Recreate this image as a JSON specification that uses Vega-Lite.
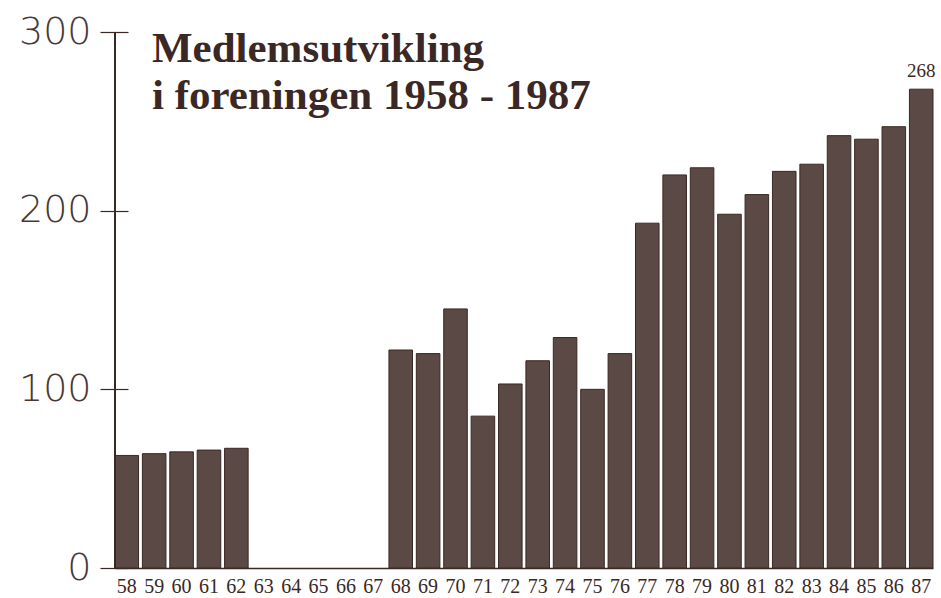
{
  "$schema": "https://vega.github.io/schema/vega-lite/v6.json",
  "width": 818,
  "height": 536,
  "autosize": {"type": "none"},
  "padding": {"left": 115, "top": 32, "right": 8, "bottom": 30},
  "background": "#ffffff",
  "config": {"view": {"stroke": null}},
  "title": {
    "text": ["Medlemsutvikling", "i foreningen 1958 - 1987"],
    "anchor": "start",
    "frame": "group",
    "orient": "top",
    "baseline": "top",
    "offset": 0,
    "dx": 37,
    "dy": 105,
    "font": "Liberation Serif",
    "fontSize": 43,
    "fontWeight": "bold",
    "lineHeight": 47,
    "color": "#3b2824"
  },
  "data": {
    "values": [
      {"year": "58", "members": 63},
      {"year": "59", "members": 64},
      {"year": "60", "members": 65},
      {"year": "61", "members": 66},
      {"year": "62", "members": 67},
      {"year": "63", "members": null},
      {"year": "64", "members": null},
      {"year": "65", "members": null},
      {"year": "66", "members": null},
      {"year": "67", "members": null},
      {"year": "68", "members": 122},
      {"year": "69", "members": 120},
      {"year": "70", "members": 145},
      {"year": "71", "members": 85},
      {"year": "72", "members": 103},
      {"year": "73", "members": 116},
      {"year": "74", "members": 129},
      {"year": "75", "members": 100},
      {"year": "76", "members": 120},
      {"year": "77", "members": 193},
      {"year": "78", "members": 220},
      {"year": "79", "members": 224},
      {"year": "80", "members": 198},
      {"year": "81", "members": 209},
      {"year": "82", "members": 222},
      {"year": "83", "members": 226},
      {"year": "84", "members": 242},
      {"year": "85", "members": 240},
      {"year": "86", "members": 247},
      {"year": "87", "members": 268}
    ]
  },
  "encoding": {
    "x": {
      "field": "year",
      "type": "ordinal",
      "scale": {
        "domain": ["58","59","60","61","62","63","64","65","66","67","68","69","70","71","72","73","74","75","76","77","78","79","80","81","82","83","84","85","86","87"],
        "paddingInner": 0.14,
        "paddingOuter": 0
      },
      "axis": {
        "title": null,
        "labelAngle": 0,
        "ticks": false,
        "domain": true,
        "domainColor": "#3b2824",
        "domainWidth": 1.5,
        "labelFont": "Liberation Serif",
        "labelFontSize": 20,
        "labelColor": "#3b2824",
        "labelPadding": 8,
        "grid": false
      }
    }
  },
  "layer": [
    {
      "mark": {"type": "bar", "color": "#5b4945", "stroke": "#3b2824", "strokeWidth": 1},
      "encoding": {
        "y": {
          "field": "members",
          "type": "quantitative",
          "scale": {"domain": [0, 300], "nice": false},
          "axis": {
            "title": null,
            "values": [0, 100, 200, 300],
            "orient": "left",
            "offset": -13,
            "grid": false,
            "domain": false,
            "tickColor": "#3b2824",
            "tickWidth": 1.2,
            "tickSize": 28,
            "labelFont": "DejaVu Sans",
            "labelFontWeight": 200,
            "labelFontSize": 38,
            "labelColor": "#4a3834",
            "labelPadding": 9
          }
        }
      }
    },
    {
      "mark": {"type": "rule", "color": "#3b2824", "strokeWidth": 1.2},
      "encoding": {
        "x": {"datum": "58", "type": "ordinal", "bandPosition": 0},
        "y": {"datum": 0, "type": "quantitative"},
        "y2": {"datum": 300}
      }
    },
    {
      "transform": [{"filter": "datum.year == '87'"}],
      "mark": {"type": "text", "baseline": "bottom", "dy": -8, "font": "Liberation Serif", "fontSize": 19, "color": "#3b2824"},
      "encoding": {
        "y": {"field": "members", "type": "quantitative"},
        "text": {"field": "members", "type": "quantitative"}
      }
    }
  ]
}
